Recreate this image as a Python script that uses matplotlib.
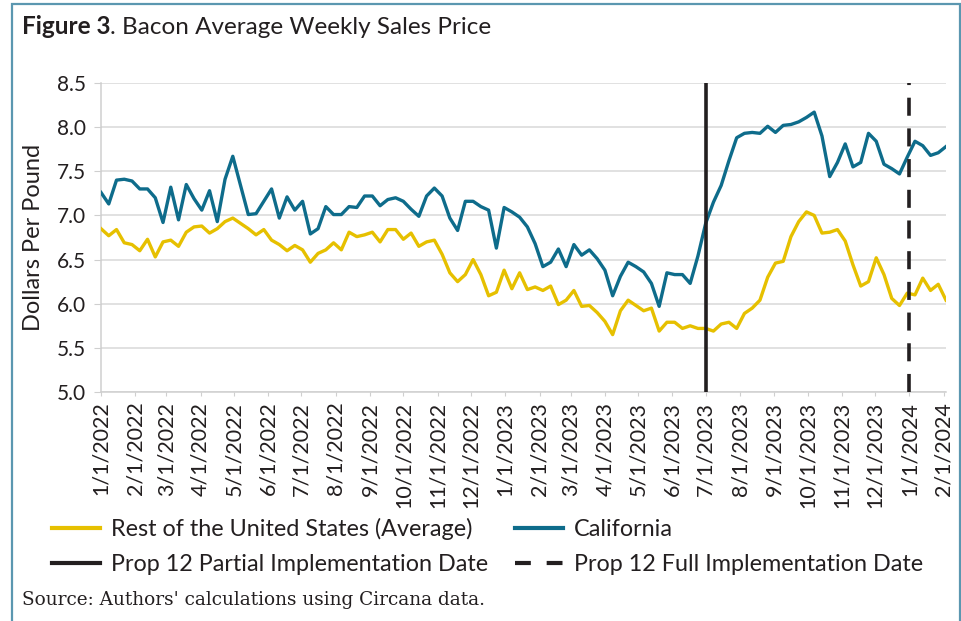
import numpy as np
import pandas as pd
import matplotlib
matplotlib.use("Agg")
import matplotlib.pyplot as plt
import matplotlib.dates as mdates
from matplotlib.lines import Line2D
from matplotlib.patches import Rectangle

plt.rcParams['font.family'] = ['Lato', 'DejaVu Sans']

# weekly average price, $/lb
california = [7.26, 7.13, 7.40, 7.41, 7.39, 7.30, 7.30, 7.20, 6.92, 7.32, 6.95, 7.35, 7.19, 7.06,
              7.28, 6.93, 7.41, 7.67, 7.34, 7.01, 7.02, 7.16, 7.30, 6.97, 7.21, 7.06, 7.16,
              6.79, 6.85, 7.10, 7.01, 7.01, 7.10, 7.09, 7.22, 7.22, 7.11, 7.18, 7.20, 7.16, 7.07,
              6.99, 7.22, 7.31, 7.22, 6.97, 6.83, 7.16, 7.16, 7.10, 7.06, 6.63, 7.09, 7.04, 6.98,
              6.87, 6.68, 6.42, 6.47, 6.62, 6.42, 6.67, 6.55, 6.61, 6.51, 6.38, 6.09, 6.31, 6.47,
              6.42, 6.36, 6.23, 5.97, 6.35, 6.33, 6.33, 6.23, 6.54,
              6.91, 7.15, 7.34, 7.62, 7.88,
              7.93, 7.94, 7.93, 8.01, 7.94, 8.02, 8.03, 8.06, 8.11, 8.17, 7.90, 7.44, 7.60, 7.81,
              7.55, 7.60, 7.93, 7.84, 7.58, 7.53, 7.47, 7.66, 7.84, 7.79, 7.68, 7.71, 7.78]
rest_of_us = [6.85, 6.77, 6.84, 6.69, 6.67, 6.60, 6.73, 6.53, 6.70, 6.72, 6.65, 6.81, 6.87, 6.88,
              6.80, 6.85, 6.93, 6.97, 6.91, 6.85, 6.78, 6.84, 6.72, 6.67, 6.60, 6.66, 6.61,
              6.47, 6.57, 6.61, 6.69, 6.61, 6.81, 6.76, 6.78, 6.81, 6.70, 6.84, 6.84, 6.73, 6.80,
              6.65, 6.70, 6.72, 6.56, 6.35, 6.25, 6.33, 6.50, 6.33, 6.09, 6.13, 6.38, 6.17, 6.35,
              6.16, 6.19, 6.15, 6.20, 5.99, 6.04, 6.15, 5.97, 5.98, 5.90, 5.80, 5.65, 5.92, 6.04,
              5.98, 5.92, 5.95, 5.69, 5.79, 5.79, 5.72, 5.75, 5.72, 5.72, 5.69,
              5.77, 5.79, 5.72, 5.89, 5.95, 6.04, 6.30, 6.46, 6.48, 6.76, 6.93, 7.04, 7.00, 6.80,
              6.81, 6.84, 6.71, 6.44, 6.20, 6.25, 6.52, 6.33, 6.06, 5.98, 6.12, 6.10, 6.29, 6.15,
              6.22, 6.04]
weeks = pd.date_range("2022-01-01", periods=len(california), freq="7D")
partial_date = pd.Timestamp("2023-07-01")
full_date = pd.Timestamp("2024-01-01")

YELLOW = "#e6c000"
BLUE = "#0e6c8b"
BLACK = "#231f20"
GRID = "#d9d9d9"
TXT = "#231f20"

W, H = 962, 621
fig = plt.figure(figsize=(W / 100, H / 100), dpi=100)

# frame around the figure
fig.add_artist(Rectangle((12 / W, -0.05), (960 - 12) / W, 1.05 - 4 / H, transform=fig.transFigure,
                         fill=False, edgecolor="#5b97b0", linewidth=1.6))

ax = fig.add_axes([101 / W, 1 - 392 / H, (946 - 101) / W, (392 - 83) / H])

ax.plot(weeks, rest_of_us, color=YELLOW, lw=2.4, zorder=3)
ax.plot(weeks, california, color=BLUE, lw=2.4, zorder=3)
ax.axvline(partial_date, color=BLACK, lw=2.6, zorder=4)
ax.axvline(full_date, color=BLACK, lw=2.6, dashes=(5, 3.5), zorder=4)

ax.set_ylim(5.0, 8.5)
ax.set_yticks(np.arange(5.0, 8.51, 0.5))
ax.yaxis.set_major_formatter(matplotlib.ticker.FormatStrFormatter("%.1f"))
ax.set_xlim(weeks[0], weeks[-1])
ax.xaxis.set_major_locator(mdates.MonthLocator())
ax.xaxis.set_major_formatter(matplotlib.ticker.FuncFormatter(
    lambda v, pos: (lambda d: f"{d.month}/{d.day}/{d.year}")(mdates.num2date(v))))
plt.setp(ax.get_xticklabels(), rotation=90)

ax.grid(axis="y", color=GRID, lw=1.1)
ax.set_axisbelow(True)
for s in ["top", "right"]:
    ax.spines[s].set_visible(False)
for s in ["left", "bottom"]:
    ax.spines[s].set_color("#cfcfcf")
    ax.spines[s].set_linewidth(1.1)
ax.tick_params(axis="y", length=5, color="#cfcfcf", labelsize=15, labelcolor=TXT, pad=6)
ax.tick_params(axis="x", length=3, color="#cfcfcf", labelsize=15.5, labelcolor=TXT, pad=4)
ax.set_ylabel("Dollars Per Pound", fontsize=17, color=TXT)
ax.yaxis.set_label_coords((33 - 101) / 845, 0.5)
ax.yaxis.label.set_va("center")

# title: bold "Figure 3" followed by regular text
t1 = fig.text(22 / W, 1 - 27 / H, "Figure 3", fontsize=17.5, color=TXT, va="center",
              fontweight="bold")
fig.canvas.draw()
bb = t1.get_window_extent()
fig.text(bb.x1 / W, 1 - 27 / H, ". Bacon Average Weekly Sales Price", fontsize=17.5,
         color=TXT, va="center")

handles = [Line2D([], [], color=YELLOW, lw=3),
           Line2D([], [], color=BLACK, lw=3),
           Line2D([], [], color=BLUE, lw=3),
           Line2D([], [], color=BLACK, lw=3, dashes=(3.8, 3.8))]
labels = ["Rest of the United States (Average)", "Prop 12 Partial Implementation Date",
          "California", "Prop 12 Full Implementation Date"]
fig.legend(handles, labels, ncol=2, loc="upper left", bbox_to_anchor=(36 / W, 1 - 502 / H),
           frameon=False, fontsize=16.8, handlelength=2.06, handletextpad=0.47,
           columnspacing=1.12, labelspacing=0.6, labelcolor=TXT, borderpad=0.2)

fig.text(22 / W, 1 - 600 / H, "Source: Authors' calculations using Circana data.",
         fontsize=13.3, family="DejaVu Serif", color=TXT, va="center")

fig.savefig("out.png", dpi=100)
